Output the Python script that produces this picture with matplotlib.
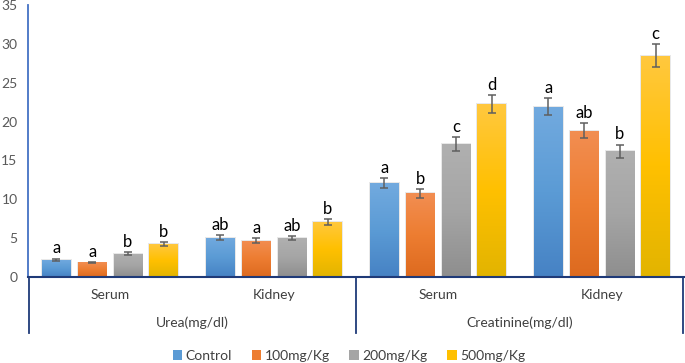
import matplotlib
matplotlib.use("Agg")
import matplotlib.pyplot as plt
import numpy as np
from matplotlib.colors import LinearSegmentedColormap
from matplotlib.patches import Patch
import matplotlib.transforms as mtransforms

plt.rcParams['font.family'] = ['Lato', 'DejaVu Sans']

inner_labels = ["Serum", "Kidney", "Serum", "Kidney"]
outer_labels = ["Urea(mg/dl)", "Creatinine(mg/dl)"]
series_names = ["Control", "100mg/Kg", "200mg/Kg", "500mg/Kg"]

control = [2.2, 5.05, 12.05, 21.9]
dose100 = [1.85, 4.65, 10.75, 18.85]
dose200 = [3.0, 5.0, 17.1, 16.2]
dose500 = [4.2, 7.1, 22.25, 28.5]

err_control = [0.15, 0.3, 0.62, 1.1]
err_dose100 = [0.1, 0.3, 0.55, 0.95]
err_dose200 = [0.15, 0.3, 0.88, 0.84]
err_dose500 = [0.25, 0.4, 1.15, 1.45]

let_control = ["a", "ab", "a", "a"]
let_dose100 = ["a", "a", "b", "ab"]
let_dose200 = ["b", "ab", "c", "b"]
let_dose500 = ["b", "b", "d", "c"]

values = [control, dose100, dose200, dose500]
errors = [err_control, err_dose100, err_dose200, err_dose500]
letters = [let_control, let_dose100, let_dose200, let_dose500]

base_colors = ["#5B9BD5", "#ED7D31", "#A5A5A5", "#FFC000"]
grad = [("#72AADF", "#4682C4"), ("#F28E52", "#DD6A1F"),
        ("#B0B0B0", "#8E8E8E"), ("#FFC83F", "#E2B400")]

W, H = 685, 363
fig = plt.figure(figsize=(W / 100, H / 100), dpi=100)
ax = fig.add_axes([28 / W, 1 - 276.8 / H, (684 - 28) / W, (276.8 - 5.2) / H])

x = np.arange(len(inner_labels))
bw = 0.1735
step = 0.2175
offsets = (np.arange(4) - 1.5) * step

gimg = np.linspace(1, 0, 256).reshape(-1, 1)
for i in range(4):
    cmap = LinearSegmentedColormap.from_list("g%d" % i, [grad[i][1], base_colors[i], grad[i][0]])
    xs = x + offsets[i]
    bars = ax.bar(xs, values[i], width=bw, color=base_colors[i], zorder=2, linewidth=0)
    for b in bars:
        sh = plt.Rectangle((b.get_x() - 0.006, 0), b.get_width() + 0.012, b.get_height() + 0.12,
                           facecolor="#d9d9d9", edgecolor="none", zorder=1, alpha=0.6)
        ax.add_patch(sh)
        im = ax.imshow(gimg[::-1], cmap=cmap, aspect='auto', origin='lower',
                       extent=[b.get_x(), b.get_x() + b.get_width(), 0, b.get_height()],
                       zorder=2.5, interpolation='bilinear')
        im.set_clip_path(b)
    ax.errorbar(xs, values[i], yerr=errors[i], fmt='none', ecolor="#5f5f5f",
                elinewidth=1.1, capsize=3.2, capthick=1.1, zorder=3)
    for j in range(4):
        ax.annotate(letters[i][j], (xs[j], values[i][j] + errors[i][j]),
                    xytext=(0, 1.5), textcoords='offset points', ha='center', va='bottom',
                    fontsize=12, color='black', zorder=4)

ax.set_xlim(-0.5, 3.5)
ax.set_ylim(0, 35)
ax.set_yticks(np.arange(0, 36, 5))
ax.tick_params(axis='y', length=0, pad=7.5, labelsize=10, labelcolor="#595959")
ax.set_xticks([])
for s in ["top", "right"]:
    ax.spines[s].set_visible(False)
ax.spines["left"].set_color("#4472C4")
ax.spines["left"].set_linewidth(1.3)
ax.spines["bottom"].set_color("#1F3A78")
ax.spines["bottom"].set_linewidth(1.5)
ax.set_xlim(-0.5, 3.5)

trans = mtransforms.blended_transform_factory(ax.transData, ax.transAxes)
ybot = -(333 - 276.8) / (276.8 - 5.2)
for xv in [-0.5, 1.5, 3.5]:
    xx = xv + (0.004 if xv == -0.5 else (-0.004 if xv == 3.5 else 0))
    ax.plot([xx, xx], [0, ybot], transform=trans, color="#1F3A78", lw=1.3, clip_on=False)

y_inner = -(295 - 276.8) / (276.8 - 5.2)
y_outer = -(323 - 276.8) / (276.8 - 5.2)
for j, lab in enumerate(inner_labels):
    ax.text(x[j], y_inner, lab, transform=trans, ha='center', va='center',
            fontsize=10, color="#404040")
for k, lab in enumerate(outer_labels):
    ax.text(2 * k + 0.5, y_outer, lab, transform=trans, ha='center', va='center',
            fontsize=10, color="#404040")

handles = [Patch(facecolor=c, edgecolor='none') for c in base_colors]
fig.legend(handles, series_names, loc='center', bbox_to_anchor=(349 / W, 1 - 356 / H),
           ncol=4, frameon=False, fontsize=10, handlelength=0.7, handleheight=0.7,
           handletextpad=0.25, columnspacing=1.4, labelcolor="#404040")

fig.savefig("out.png", dpi=100)
